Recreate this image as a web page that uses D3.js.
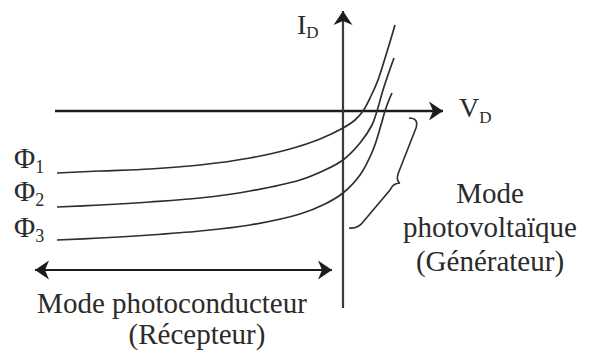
<!DOCTYPE html>
<html>
<head>
<meta charset="utf-8">
<script src="https://cdn.jsdelivr.net/npm/d3@7"></script>
<style>
  html, body { margin: 0; padding: 0; background: #fff; }
  svg { display: block; }
  text { font-family: "Liberation Serif", "Times New Roman", serif; fill: #2b2b2b; }
</style>
</head>
<body>
<script>
// I–V characteristics of a photodiode for three illumination levels
const curveNames = ["Φ1", "Φ2", "Φ3"];
const voltage1 = [-28.6, -24.3, -19.3, -14.3, -9.3, -5.3, -2.3, 0, 1.2, 2.0, 2.8, 3.5, 4.3, 5.2];
const current1 = [-6.2, -6.0, -5.8, -5.4, -4.7, -3.8, -2.8, -1.7, -0.9, 0, 1.5, 3.1, 5.6, 8.6];
const voltage2 = [-28.6, -24.3, -19.3, -14.3, -9.3, -4.3, -1.8, 0, 1.7, 2.9, 3.4, 4.0, 4.6, 5.1];
const current2 = [-9.6, -9.4, -9.1, -8.7, -8.0, -6.9, -5.9, -4.9, -3.2, -1.4, 0, 2.1, 3.9, 5.3];
const voltage3 = [-28.6, -24.3, -19.3, -14.3, -9.3, -4.3, -1.8, 0, 1.7, 3.0, 3.8, 4.2, 4.6, 4.9];
const current3 = [-12.9, -12.7, -12.4, -12.0, -11.4, -10.3, -9.3, -8.2, -6.4, -3.9, -1.4, 0, 1.1, 1.8];

// Axis extents (data units)
const vAxisExtent = [-28.8, 10];
const iAxisExtent = [-19.7, 10.0];
// Photoconductive region (reverse bias)
const reverseRange = [-30.8, -1.1];

const W = 592, H = 352;
const x = d3.scaleLinear().domain([-30, 10]).range([43, 443]);
const y = d3.scaleLinear().domain([-20, 10]).range([311, 11]);

const svg = d3.select("body").append("svg")
  .attr("width", W).attr("height", H);

const defs = svg.append("defs");
defs.append("marker")
  .attr("id", "head")
  .attr("markerUnits", "userSpaceOnUse")
  .attr("viewBox", "-15 -11 16 22")
  .attr("refX", 0).attr("refY", 0)
  .attr("markerWidth", 16).attr("markerHeight", 22)
  .attr("orient", "auto-start-reverse")
  .append("path")
  .attr("d", "M0,0 L-14,-9.5 L-10,0 L-14,9.5 Z")
  .attr("fill", "#1c1c1c");

// Axes
svg.append("line")
  .attr("x1", x(vAxisExtent[0])).attr("x2", x(vAxisExtent[1]))
  .attr("y1", y(0)).attr("y2", y(0))
  .attr("stroke", "#1c1c1c").attr("stroke-width", 2.4)
  .attr("marker-end", "url(#head)");

svg.append("line")
  .attr("x1", x(0)).attr("x2", x(0))
  .attr("y1", y(iAxisExtent[0])).attr("y2", y(iAxisExtent[1]))
  .attr("stroke", "#3a3a3a").attr("stroke-width", 2.2)
  .attr("marker-end", "url(#head)");

// Characteristic curves
const series = [
  { name: curveNames[0], v: voltage1, i: current1 },
  { name: curveNames[1], v: voltage2, i: current2 },
  { name: curveNames[2], v: voltage3, i: current3 }
];
const line = d3.line()
  .x(d => x(d[0])).y(d => y(d[1]))
  .curve(d3.curveCatmullRom.alpha(0.5));

svg.append("g").selectAll("path")
  .data(series)
  .join("path")
  .attr("d", s => line(s.v.map((v, k) => [v, s.i[k]])))
  .attr("fill", "none")
  .attr("stroke", "#2e2e2e")
  .attr("stroke-width", 1.7);

// Curve labels Φ1..Φ3
const labelG = svg.append("g");
series.forEach((s, k) => {
  const baseY = [168, 201, 237][k];
  const t = labelG.append("text")
    .attr("x", 14).attr("y", baseY)
    .attr("font-size", 29);
  t.append("tspan").text("Φ");
  t.append("tspan").attr("font-size", 18).attr("dy", 5).text(s.name.slice(1));
});

// Axis titles
const iLab = svg.append("text").attr("x", 297).attr("y", 34).attr("font-size", 28);
iLab.append("tspan").text("I");
iLab.append("tspan").attr("font-size", 17).attr("dy", 4).text("D");

const vLab = svg.append("text").attr("x", 459).attr("y", 117).attr("font-size", 28);
vLab.append("tspan").text("V");
vLab.append("tspan").attr("font-size", 17).attr("dy", 6).text("D");

// Double arrow for the reverse-bias region
svg.append("line")
  .attr("x1", x(reverseRange[0])).attr("x2", x(reverseRange[1]))
  .attr("y1", y(-15.9)).attr("y2", y(-15.9))
  .attr("stroke", "#1c1c1c").attr("stroke-width", 2.2)
  .attr("marker-start", "url(#head)")
  .attr("marker-end", "url(#head)");

svg.append("text")
  .attr("x", 172).attr("y", 313).attr("text-anchor", "middle")
  .attr("font-size", 29).text("Mode photoconducteur");
svg.append("text")
  .attr("x", 197).attr("y", 344).attr("text-anchor", "middle")
  .attr("font-size", 29).text("(Récepteur)");

// Brace marking the generator quadrant
const bx = v => x(v), by = i => y(i);
const brace = d3.path();
brace.moveTo(bx(6.6), by(-0.7));
brace.quadraticCurveTo(bx(7.6), by(-0.7), bx(7.3), by(-1.7));
brace.lineTo(bx(5.5), by(-6.3));
brace.quadraticCurveTo(bx(5.3), by(-7.0), bx(5.7), by(-7.2));
brace.moveTo(bx(5.7), by(-7.2));
brace.quadraticCurveTo(bx(5.0), by(-7.2), bx(4.7), by(-7.9));
brace.lineTo(bx(2.0), by(-11.1));
brace.quadraticCurveTo(bx(1.5), by(-11.8), bx(0.6), by(-11.7));
svg.append("path")
  .attr("d", brace.toString())
  .attr("fill", "none")
  .attr("stroke", "#2e2e2e")
  .attr("stroke-width", 1.6);

const genLines = ["Mode", "photovoltaïque", "(Générateur)"];
svg.append("g").selectAll("text")
  .data(genLines)
  .join("text")
  .attr("x", 490)
  .attr("y", (d, k) => 203 + k * 34)
  .attr("text-anchor", "middle")
  .attr("font-size", 29)
  .text(d => d);
</script>
</body>
</html>
